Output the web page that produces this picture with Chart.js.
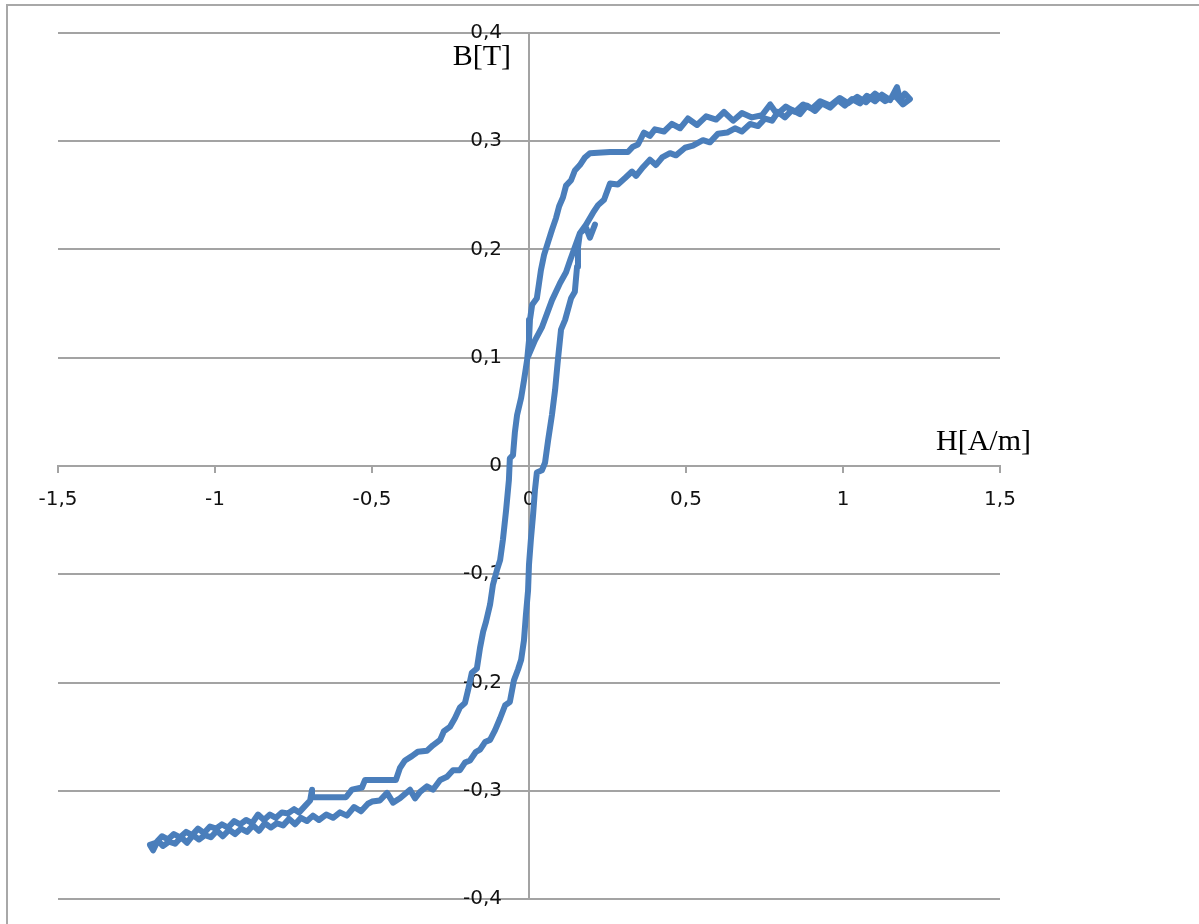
<!DOCTYPE html>
<html>
<head>
<meta charset="utf-8">
<script src="https://cdn.jsdelivr.net/npm/chart.js@4.4.0/dist/chart.umd.min.js"></script>
<style>
  html, body { margin: 0; padding: 0; background: #fff; }
  canvas { display: block; }
</style>
</head>
<body>
<canvas id="loop" width="1199" height="924"></canvas>
<script>
// magnetisation start (from remanence up to saturation)
const startH = [-0.003, 0.019, 0.041, 0.073, 0.099, 0.118, 0.131, 0.162, 0.182, 0.204, 0.220, 0.239, 0.258, 0.283, 0.306, 0.328, 0.341, 0.363, 0.385, 0.404, 0.424, 0.449, 0.468, 0.497, 0.522, 0.554, 0.576, 0.602, 0.631, 0.656, 0.678, 0.704, 0.729, 0.752, 0.774, 0.793, 0.815, 0.838, 0.863, 0.885, 0.911, 0.933, 0.959, 0.984, 1.006, 1.029, 1.054, 1.076, 1.102, 1.124, 1.150, 1.172, 1.182, 1.197, 1.213];
const startB = [0.101, 0.116, 0.128, 0.153, 0.169, 0.179, 0.190, 0.215, 0.223, 0.234, 0.241, 0.246, 0.261, 0.260, 0.266, 0.272, 0.268, 0.276, 0.283, 0.278, 0.285, 0.289, 0.287, 0.294, 0.296, 0.301, 0.299, 0.307, 0.308, 0.312, 0.309, 0.316, 0.314, 0.321, 0.319, 0.327, 0.322, 0.329, 0.325, 0.333, 0.328, 0.335, 0.331, 0.338, 0.333, 0.339, 0.335, 0.342, 0.337, 0.343, 0.338, 0.350, 0.338, 0.344, 0.339];

// descending branch
const downH = [1.191, 1.166, 1.134, 1.102, 1.073, 1.045, 1.016, 0.990, 0.959, 0.927, 0.901, 0.873, 0.847, 0.818, 0.790, 0.768, 0.742, 0.710, 0.678, 0.650, 0.621, 0.596, 0.564, 0.535, 0.506, 0.481, 0.455, 0.430, 0.401, 0.385, 0.366, 0.347, 0.331, 0.315, 0.258, 0.194, 0.178, 0.162, 0.146, 0.134, 0.118, 0.108, 0.096, 0.086, 0.073, 0.061, 0.048, 0.038, 0.032, 0.025, 0.010, 0.003, 0.000, -0.006, -0.016, -0.025, -0.038, -0.045, -0.051, -0.061, -0.064, -0.073, -0.083, -0.092, -0.102, -0.115, -0.124, -0.137, -0.146, -0.156, -0.166, -0.182, -0.194, -0.204, -0.220, -0.236, -0.252, -0.271, -0.283, -0.306, -0.325, -0.354, -0.373, -0.395, -0.411, -0.424, -0.475, -0.522, -0.532, -0.564, -0.583, -0.618, -0.650, -0.688, -0.691, -0.697, -0.713, -0.732, -0.748, -0.768, -0.787, -0.806, -0.825, -0.844, -0.863, -0.882, -0.901, -0.920, -0.939, -0.959, -0.978, -0.997, -1.016, -1.035, -1.054, -1.073, -1.092, -1.111, -1.131, -1.150, -1.169, -1.188, -1.207];
const downB = [0.334, 0.342, 0.337, 0.344, 0.336, 0.341, 0.335, 0.340, 0.333, 0.337, 0.330, 0.334, 0.327, 0.332, 0.325, 0.334, 0.324, 0.322, 0.326, 0.319, 0.327, 0.320, 0.323, 0.315, 0.321, 0.312, 0.316, 0.309, 0.311, 0.305, 0.308, 0.297, 0.295, 0.290, 0.290, 0.289, 0.285, 0.278, 0.273, 0.264, 0.259, 0.248, 0.240, 0.229, 0.218, 0.207, 0.195, 0.181, 0.169, 0.155, 0.149, 0.135, 0.116, 0.098, 0.079, 0.063, 0.047, 0.031, 0.010, 0.007, -0.013, -0.041, -0.068, -0.087, -0.096, -0.110, -0.128, -0.144, -0.153, -0.168, -0.187, -0.191, -0.207, -0.219, -0.223, -0.233, -0.241, -0.245, -0.253, -0.258, -0.263, -0.264, -0.268, -0.272, -0.279, -0.290, -0.290, -0.290, -0.297, -0.299, -0.306, -0.306, -0.306, -0.306, -0.299, -0.309, -0.314, -0.320, -0.317, -0.321, -0.320, -0.325, -0.322, -0.327, -0.322, -0.330, -0.327, -0.331, -0.328, -0.334, -0.331, -0.335, -0.333, -0.339, -0.335, -0.341, -0.338, -0.343, -0.340, -0.345, -0.342, -0.348, -0.350];

// ascending branch
const upH = [-1.197, -1.182, -1.166, -1.146, -1.127, -1.108, -1.089, -1.070, -1.051, -1.032, -1.013, -0.994, -0.975, -0.955, -0.936, -0.917, -0.898, -0.879, -0.860, -0.841, -0.822, -0.803, -0.783, -0.764, -0.745, -0.726, -0.707, -0.688, -0.669, -0.646, -0.624, -0.602, -0.580, -0.557, -0.535, -0.513, -0.500, -0.475, -0.452, -0.433, -0.411, -0.379, -0.363, -0.347, -0.325, -0.306, -0.283, -0.261, -0.242, -0.220, -0.204, -0.188, -0.169, -0.156, -0.140, -0.124, -0.108, -0.092, -0.076, -0.061, -0.048, -0.035, -0.025, -0.016, -0.010, -0.003, 0.000, 0.006, 0.013, 0.019, 0.025, 0.041, 0.051, 0.061, 0.073, 0.083, 0.092, 0.102, 0.115, 0.134, 0.146, 0.153, 0.156, 0.162, 0.182, 0.194, 0.210];
const upB = [-0.355, -0.346, -0.351, -0.347, -0.349, -0.343, -0.348, -0.341, -0.345, -0.341, -0.343, -0.337, -0.342, -0.336, -0.340, -0.335, -0.338, -0.332, -0.337, -0.330, -0.334, -0.330, -0.332, -0.326, -0.331, -0.325, -0.328, -0.323, -0.327, -0.322, -0.325, -0.320, -0.323, -0.315, -0.319, -0.312, -0.310, -0.309, -0.302, -0.311, -0.307, -0.299, -0.307, -0.301, -0.296, -0.299, -0.290, -0.287, -0.281, -0.281, -0.274, -0.272, -0.264, -0.262, -0.255, -0.253, -0.244, -0.233, -0.221, -0.218, -0.198, -0.188, -0.179, -0.161, -0.138, -0.115, -0.091, -0.068, -0.045, -0.022, -0.006, -0.004, 0.003, 0.024, 0.047, 0.070, 0.098, 0.126, 0.135, 0.155, 0.161, 0.184, 0.202, 0.215, 0.220, 0.211, 0.223];

const xTicks = [-1.5, -1, -0.5, 0, 0.5, 1, 1.5];
const yTicks = [-0.4, -0.3, -0.2, -0.1, 0, 0.1, 0.2, 0.3, 0.4];

const H = startH.concat(downH, upH);
const B = startB.concat(downB, upB);
const points = H.map((h, i) => ({ x: h, y: B[i] }));

const gray = '#a3a3a3';
const comma = v => String(Math.round(v * 10) / 10).replace('.', ',');

const decor = {
  id: 'decor',
  beforeDraw(chart) {
    const c = chart.ctx;
    c.save();
    c.strokeStyle = '#a8a8a8';
    c.lineWidth = 2;
    c.beginPath();
    c.moveTo(7, chart.height);
    c.lineTo(7, 5);
    c.lineTo(chart.width, 5);
    c.stroke();
    c.restore();
  },
  afterDraw(chart) {
    const c = chart.ctx;
    const xs = chart.scales.x, ys = chart.scales.y;
    const x0 = xs.getPixelForValue(0), y0 = ys.getPixelForValue(0);
    c.save();
    c.fillStyle = '#000';
    c.font = '30px "Liberation Serif", "Times New Roman", serif';
    c.textBaseline = 'alphabetic';
    c.textAlign = 'right';
    c.fillText('B[T]', x0 - 18, chart.chartArea.top + 32);
    c.textAlign = 'left';
    c.fillText('H[A/m]', chart.chartArea.right - 64, y0 - 16);
    c.restore();
  }
};

new Chart(document.getElementById('loop').getContext('2d'), {
  type: 'scatter',
  data: {
    datasets: [{
      label: 'B(H)',
      data: points,
      showLine: true,
      borderColor: '#4a7ebb',
      backgroundColor: '#4a7ebb',
      borderWidth: 6,
      borderJoinStyle: 'round',
      borderCapStyle: 'round',
      pointRadius: 0,
      tension: 0
    }]
  },
  options: {
    responsive: false,
    animation: false,
    layout: { padding: { left: 58, right: 199, top: 33, bottom: 25 } },
    plugins: { legend: { display: false }, tooltip: { enabled: false } },
    scales: {
      x: {
        type: 'linear',
        position: { y: 0 },
        min: -1.5,
        max: 1.5,
        afterFit: s => { s.height = 0; },
        afterBuildTicks: s => { s.ticks = xTicks.map(v => ({ value: v })); },
        border: { display: true, color: gray, width: 2 },
        grid: {
          drawOnChartArea: true,
          drawTicks: true,
          tickLength: 6,
          lineWidth: 2,
          tickColor: gray,
          color: c => (c.tick && c.tick.value === 0 ? gray : 'rgba(0,0,0,0)')
        },
        ticks: {
          padding: 16,
          maxRotation: 0,
          autoSkip: false,
          color: '#111',
          font: { family: '"DejaVu Sans", Verdana, sans-serif', size: 20 },
          callback: v => comma(v)
        }
      },
      y: {
        type: 'linear',
        position: { x: -0.086 },
        min: -0.4,
        max: 0.4,
        afterFit: s => { s.width = 0; },
        afterBuildTicks: s => { s.ticks = yTicks.map(v => ({ value: v })); },
        border: { display: false },
        grid: { drawTicks: false, tickLength: 0, lineWidth: 2, color: gray },
        ticks: {
          padding: 0,
          autoSkip: false,
          color: '#111',
          font: { family: '"DejaVu Sans", Verdana, sans-serif', size: 20 },
          callback: v => comma(v)
        }
      }
    }
  },
  plugins: [decor]
});
</script>
</body>
</html>
